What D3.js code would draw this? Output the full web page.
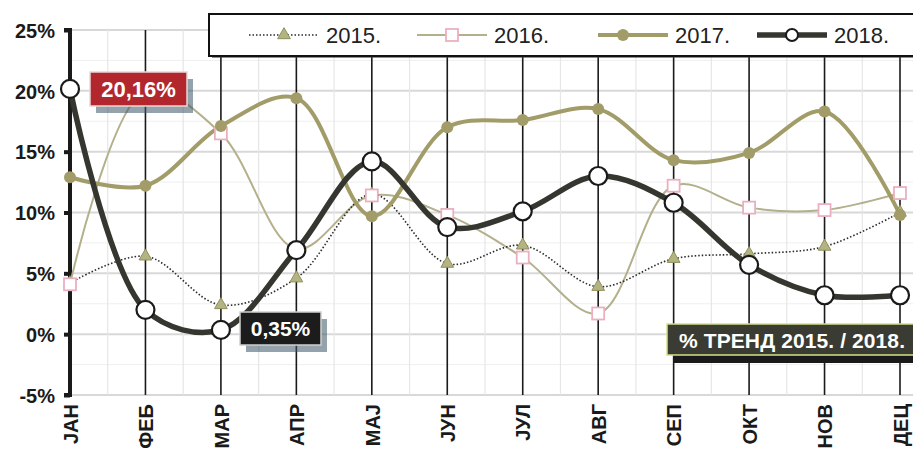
<!DOCTYPE html>
<html><head><meta charset="utf-8">
<script src="https://cdn.jsdelivr.net/npm/d3@7"></script>
<style>body{margin:0;background:#fff}svg{display:block;font-family:"Liberation Sans",Arial,sans-serif}</style>
</head><body><svg id="c" width="913" height="450"></svg>
<script>
const months = ["ЈАН","ФЕБ","МАР","АПР","МАЈ","ЈУН","ЈУЛ","АВГ","СЕП","ОКТ","НОВ","ДЕЦ"];
const yTicks = [-5,0,5,10,15,20,25];
const s2015 = [4.2,6.4,2.4,4.6,11.5,5.8,7.3,3.9,6.2,6.6,7.2,10.0];
const s2016 = [4.1,20.0,16.5,7.0,11.4,9.8,6.3,1.7,12.2,10.4,10.2,11.6];
const s2017 = [12.9,12.2,17.1,19.4,9.7,17.0,17.6,18.5,14.3,14.9,18.3,9.8];
const s2018 = [20.16,2.0,0.35,6.9,14.2,8.8,10.1,13.0,10.8,5.7,3.2,3.2];
const seriesNames = ["2015.","2016.","2017.","2018."];
const labelTexts = ["20,16%","0,35%","% ТРЕНД 2015. / 2018."];

const svg = d3.select("#c");
const x = d3.scalePoint().domain(months).range([70,900]);
const y = d3.scaleLinear().domain([-5,25]).range([395,30]);

const g = svg.append("g");
const minorY = d3.range(-5,25.01,2.5);
g.selectAll(".hg").data(minorY).join("line")
  .attr("x1",70).attr("x2",913).attr("y1",d=>y(d)).attr("y2",d=>y(d))
  .attr("stroke",d=>d%5===0?"#d8d8d8":"#efefef").attr("stroke-width",d=>d%5===0?2:1);
const step = x.step();
g.selectAll(".vg").data(months.slice(0,-1)).join("line")
  .attr("x1",d=>x(d)+step/2).attr("x2",d=>x(d)+step/2).attr("y1",y(25)).attr("y2",y(-5))
  .attr("stroke","#e6e6e6").attr("stroke-width",1.2);
g.selectAll(".mg").data(months.slice(1)).join("line")
  .attr("x1",d=>x(d)).attr("x2",d=>x(d)).attr("y1",y(25)).attr("y2",y(-5))
  .attr("stroke","#1a1a1a").attr("stroke-width",1.6);

const ya = svg.append("g").attr("transform","translate(70,0)")
  .call(d3.axisLeft(y).tickValues(yTicks).tickSize(6).tickFormat(d=>d+"%"));
ya.select(".domain").attr("stroke","#1a1a1a").attr("stroke-width",4).attr("d","M-6,"+y(25)+"H0V"+y(-5)+"H-6");
ya.selectAll(".tick line").attr("stroke","#1a1a1a").attr("stroke-width",4);
ya.selectAll(".tick text").attr("font-size",20).attr("font-weight","bold").attr("fill","#1a1a1a").attr("x",-15).attr("dy","0.36em");

const xa = svg.append("g").attr("transform","translate(0,395)")
  .call(d3.axisBottom(x).tickSize(0));
xa.select(".domain").remove();
xa.selectAll(".tick text").attr("font-size",20).attr("font-weight","bold").attr("fill","#1a1a1a")
  .attr("transform","rotate(-90)").attr("text-anchor","end").attr("x",-9).attr("y",0).attr("dy","0.36em");

const line = d3.line().x((d,i)=>x(months[i])).y(d=>y(d)).curve(d3.curveCatmullRom.alpha(0.5));
const P = svg.append("g");
P.append("path").datum(s2016).attr("d",line).attr("fill","none").attr("stroke","#b4b08c").attr("stroke-width",2);
P.append("path").datum(s2015).attr("d",line).attr("fill","none").attr("stroke","#2a2a2a").attr("stroke-width",1.6).attr("stroke-dasharray","1.5,2");
P.append("path").datum(s2017).attr("d",line).attr("fill","none").attr("stroke","#a19c68").attr("stroke-width",4);
P.append("path").datum(s2018).attr("d",line).attr("fill","none").attr("stroke","#35362f").attr("stroke-width",5.5);

const tri = d3.symbol().type(d3.symbolTriangle).size(70);
P.selectAll(".m15").data(s2015).join("path").attr("d",tri)
  .attr("transform",(d,i)=>`translate(${x(months[i])},${y(d)})`).attr("fill","#b4b482").attr("stroke","#8f8f5e").attr("stroke-width",1);
P.selectAll(".m16").data(s2016).join("rect")
  .attr("x",(d,i)=>x(months[i])-6).attr("y",d=>y(d)-6).attr("width",12).attr("height",12)
  .attr("fill","#fff").attr("stroke","#eab0c0").attr("stroke-width",1.8);
P.selectAll(".m17").data(s2017).join("circle").attr("cx",(d,i)=>x(months[i])).attr("cy",d=>y(d)).attr("r",6)
  .attr("fill","#a19c68");
P.selectAll(".m18").data(s2018).join("circle").attr("cx",(d,i)=>x(months[i])).attr("cy",d=>y(d)).attr("r",9)
  .attr("fill","#fff").attr("stroke","#1a1a1a").attr("stroke-width",2.2);

function label(xc,yc,w,h,fill,stroke,text,fs){
  const L = svg.append("g");
  L.append("rect").attr("x",xc+6).attr("y",yc+7).attr("width",w).attr("height",h).attr("fill","#3c5566").attr("opacity",0.55);
  L.append("rect").attr("x",xc).attr("y",yc).attr("width",w).attr("height",h).attr("fill",fill).attr("stroke",stroke).attr("stroke-width",1.5);
  L.append("text").attr("x",xc+w/2).attr("y",yc+h/2).attr("dy","0.36em").attr("text-anchor","middle")
    .attr("fill","#fff").attr("font-weight","bold").attr("font-size",fs).text(text);
}
label(90,72,97,34,"#b1272d","#e9d7d7",labelTexts[0],22);
label(240,312,81,33,"#1c1c1c","#cfcfcf",labelTexts[1],21);
const T = svg.append("g");
T.append("rect").attr("x",673).attr("y",351).attr("width",240).attr("height",12).attr("fill","#1a1a1a");
T.append("rect").attr("x",667).attr("y",324).attr("width",250).attr("height",31).attr("fill","#3a3c33").attr("stroke","#d4e089").attr("stroke-width",1.5);
T.append("text").attr("x",679).attr("y",340).attr("dy","0.36em").attr("fill","#fff").attr("font-weight","bold").attr("font-size",21).attr("textLength",226).text(labelTexts[2]);

const Lg = svg.append("g");
Lg.append("rect").attr("x",212).attr("y",18).attr("width",710).attr("height",40).attr("fill","#2e4a5e").attr("opacity",0.6);
Lg.append("rect").attr("x",209).attr("y",14).attr("width",710).attr("height",42).attr("fill","#fff").attr("stroke","#111").attr("stroke-width",2);
const lx = [249,417,598,757];
const ly = 35;
const styles = [
  {c:"#2a2a2a",w:1.6,dash:"1.5,2"},{c:"#b4b08c",w:2},{c:"#a19c68",w:4},{c:"#35362f",w:5.5}
];
seriesNames.forEach((n,i)=>{
  const s = styles[i];
  Lg.append("line").attr("x1",lx[i]).attr("x2",lx[i]+70).attr("y1",ly).attr("y2",ly)
    .attr("stroke",s.c).attr("stroke-width",s.w).attr("stroke-dasharray",s.dash||null);
  const cx = lx[i]+35;
  if(i===0) Lg.append("path").attr("d",tri).attr("transform",`translate(${cx},${ly})`).attr("fill","#b4b482").attr("stroke","#8f8f5e");
  if(i===1) Lg.append("rect").attr("x",cx-6).attr("y",ly-6).attr("width",12).attr("height",12).attr("fill","#fff").attr("stroke","#eab0c0").attr("stroke-width",1.8);
  if(i===2) Lg.append("circle").attr("cx",cx-10).attr("cy",ly).attr("r",6).attr("fill","#a19c68");
  if(i===3) Lg.append("circle").attr("cx",cx).attr("cy",ly).attr("r",6).attr("fill","#fff").attr("stroke","#1a1a1a").attr("stroke-width",2);
  Lg.append("text").attr("x",lx[i]+77).attr("y",ly).attr("dy","0.36em").attr("font-size",22).attr("fill","#222").text(n);
});
</script></body></html>
